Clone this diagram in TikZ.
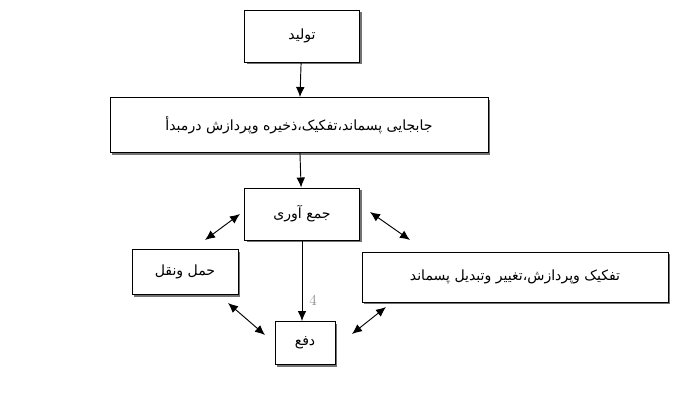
\documentclass[tikz,border=0pt]{standalone}
\usepackage{fontspec}
\newfontfamily\arabicfont[Script=Arabic]{DejaVu Sans}
\TeXXeTstate=1
\usetikzlibrary{positioning,arrows.meta,shadows}

\tikzset{
  box/.style={draw, thick, fill=white, inner sep=2pt,
    drop shadow={shadow xshift=2pt, shadow yshift=-2pt, fill=black!55, opacity=1},
    font=\arabicfont\fontsize{12}{14}\selectfont},
  link/.style={thick, -{Latex[length=3mm,width=2.6mm]}},
  both/.style={thick, {Latex[length=3mm,width=2.6mm]}-{Latex[length=3mm,width=2.6mm]}}
}

\begin{document}
\begin{tikzpicture}[x=0.03cm,y=-0.03cm]
\useasboundingbox (0,0) rectangle (697,400);

\node[box, minimum width=3.45cm, minimum height=1.56cm] (prod) at (302,36) {\beginR تولید\endR};
\node[box, minimum width=11.34cm, minimum height=1.65cm] (move) at (299,125) {\beginR جابجایی پسماند،تفکیک،ذخیره وپردازش درمبدأ\endR};
\node[box, minimum width=3.45cm, minimum height=1.56cm] (coll) at (302,214) {\beginR جمع آوری\endR};
\node[box, minimum width=3.18cm, minimum height=1.35cm] (trans) at (185,272) {\beginR حمل ونقل\endR};
\node[box, minimum width=9.18cm, minimum height=1.5cm] (proc) at (515,277) {\beginR تفکیک وپردازش،تغییر وتبدیل پسماند\endR};
\node[box, minimum width=1.8cm, minimum height=1.29cm] (disp) at (305,343) {\beginR دفع\endR};
\node[text=black!45, font=\fontsize{13}{13}\selectfont] (pg) at (313,300) {4};

% vertical flow
\draw[link] (prod) -- (move);
\draw[link] (move) -- (coll);
\draw[link] (coll.south) -- (coll.south |- disp.north);

% two-way links
\coordinate (a1) at (205,240);
\coordinate (a2) at (240,214);
\coordinate (b1) at (370,212);
\coordinate (b2) at (410,240);
\coordinate (c1) at (228,303);
\coordinate (c2) at (265,335);
\coordinate (d1) at (352,334);
\coordinate (d2) at (386,307);
\draw[both] (a1) -- (a2);
\draw[both] (b1) -- (b2);
\draw[both] (c1) -- (c2);
\draw[both] (d1) -- (d2);

\end{tikzpicture}
\end{document}
